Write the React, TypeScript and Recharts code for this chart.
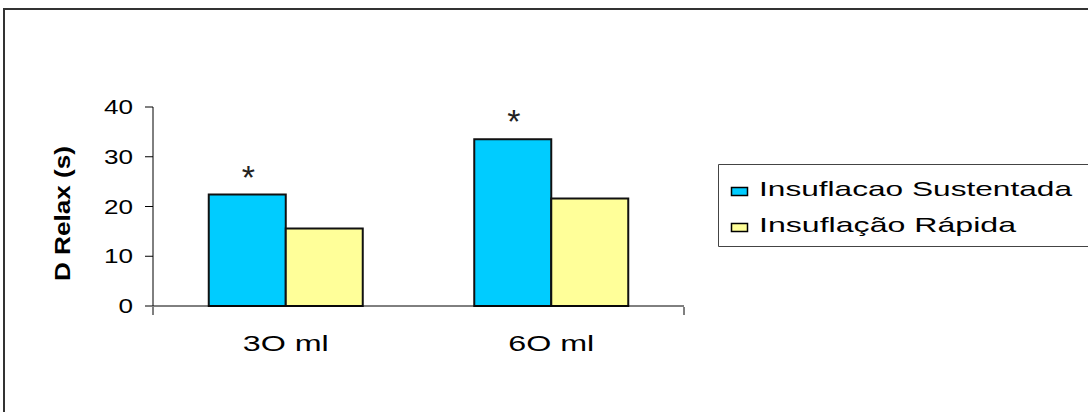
import React from "react";
import { BarChart, Bar, XAxis, YAxis, LabelList } from "recharts";

const CATEGORIES = ["3O ml", "6O ml"];
const SUSTENTADA = [22.4, 33.5];
const RAPIDA = [15.6, 21.6];
const MARKS = ["*", "*"];
const SERIES_NAMES = ["Insuflacao Sustentada", "Insuflação Rápida"];
const SERIES_COLORS = ["#00CCFF", "#FFFF99"];
const Y_TICKS = [0, 10, 20, 30, 40];
const EDGE_TICKS = [0, 1, 2];
const Y_LABEL = "D Relax (s)";

const DATA = CATEGORIES.map((name, i) => ({
  name,
  sustentada: SUSTENTADA[i],
  rapida: RAPIDA[i],
  mark: MARKS[i],
}));

const FONT = '"Liberation Sans", Arial, sans-serif';

function YTick(props: any) {
  const { x, y, payload } = props;
  const label = String(payload.value);
  return (
    <text
      x={x}
      y={y + 7}
      textAnchor="end"
      fontFamily={FONT}
      fontSize={20}
      fill="#000"
      textLength={label.length * 14.5}
      lengthAdjust="spacingAndGlyphs"
    >
      {label}
    </text>
  );
}

function XTick(props: any) {
  const { x, y, payload } = props;
  return (
    <text
      x={x}
      y={y + 45}
      textAnchor="middle"
      fontFamily={FONT}
      fontSize={22}
      fill="#000"
      textLength={86}
      lengthAdjust="spacingAndGlyphs"
    >
      {payload.value}
    </text>
  );
}

// the boundary axis only needs its tick marks, no labels
function NoLabel() {
  return <g />;
}

function YLabel(props: any) {
  const { viewBox } = props;
  const cx = viewBox.x - 90;
  const cy = viewBox.y + viewBox.height / 2 + 7;
  return (
    <text
      x={cx}
      y={cy}
      transform={`rotate(-90 ${cx} ${cy})`}
      textAnchor="middle"
      dominantBaseline="central"
      fontFamily={FONT}
      fontWeight="bold"
      fontSize={22}
      fill="#000"
      textLength={135}
      lengthAdjust="spacingAndGlyphs"
    >
      {Y_LABEL}
    </text>
  );
}

function Mark(props: any) {
  const { x, y, width, value } = props;
  return (
    <text
      x={x + width / 2 + 1}
      y={y - 6}
      textAnchor="middle"
      fontFamily={FONT}
      fontSize={34}
      fill="#222"
    >
      {value}
    </text>
  );
}

function SeriesLegend() {
  const rows = [196, 232];
  return (
    <svg
      width={370}
      height={84}
      style={{ position: "absolute", left: 718, top: 164 }}
    >
      <rect x={0} y={0} width={370} height={83} fill="#fff" />
      <polyline
        points="370,0.5 0.5,0.5 0.5,82.5 370,82.5"
        fill="none"
        stroke="#444"
      />
      {SERIES_NAMES.map((name, i) => (
        <g key={name}>
          <rect
            x={13.5}
            y={rows[i] - 164 - 8.5}
            width={16}
            height={8}
            fill={SERIES_COLORS[i]}
            stroke="#000"
            strokeWidth={1.5}
          />
          <text
            x={41}
            y={rows[i] - 164}
            fontFamily={FONT}
            fontSize={21}
            fill="#000"
            textLength={i === 0 ? 313 : 257}
            lengthAdjust="spacingAndGlyphs"
          >
            {name}
          </text>
        </g>
      ))}
    </svg>
  );
}

export default function App() {
  return (
    <div
      style={{
        position: "absolute",
        left: 0,
        top: 0,
        width: 1088,
        height: 412,
        background: "#fff",
        overflow: "hidden",
      }}
    >
      <div
        style={{
          position: "absolute",
          left: 3,
          top: 8,
          width: 1200,
          height: 500,
          borderTop: "2px solid #333",
          borderLeft: "2px solid #333",
        }}
      />
      <div style={{ position: "absolute", left: 0, top: 0 }}>
        <BarChart
          width={1088}
          height={412}
          data={DATA}
          margin={{ top: 107, right: 404, bottom: 104, left: 152 }}
          barCategoryGap="21%"
          barGap={0}
        >
          <XAxis
            dataKey="name"
            height={1}
            tickSize={0}
            tickMargin={0}
            tickLine={false}
            axisLine={{ stroke: "#000", strokeWidth: 1 }}
            tick={<XTick />}
          />
          <XAxis
            xAxisId="edge"
            type="number"
            domain={[0, 2]}
            ticks={EDGE_TICKS}
            height={1}
            tick={<NoLabel />}
            axisLine={false}
            tickSize={8}
            tickLine={{ stroke: "#000" }}
          />
          <YAxis
            width={1}
            domain={[0, 40]}
            ticks={Y_TICKS}
            tickSize={8}
            tickMargin={12}
            axisLine={{ stroke: "#000" }}
            tickLine={{ stroke: "#000" }}
            tick={<YTick />}
            label={<YLabel />}
          />
          <Bar
            dataKey="sustentada"
            name={SERIES_NAMES[0]}
            fill={SERIES_COLORS[0]}
            stroke="#111"
            strokeWidth={2}
            isAnimationActive={false}
          >
            <LabelList dataKey="mark" content={<Mark />} />
          </Bar>
          <Bar
            dataKey="rapida"
            name={SERIES_NAMES[1]}
            fill={SERIES_COLORS[1]}
            stroke="#111"
            strokeWidth={2}
            isAnimationActive={false}
          />
        </BarChart>
      </div>
      <SeriesLegend />
    </div>
  );
}
